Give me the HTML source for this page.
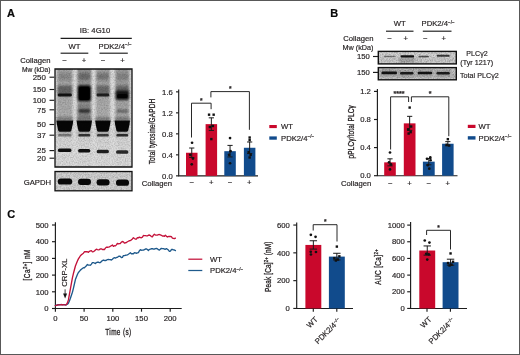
<!DOCTYPE html>
<html><head><meta charset="utf-8"><title>Figure</title>
<style>
html,body{margin:0;padding:0;background:#fff;}
body{width:520px;height:355px;overflow:hidden;font-family:"Liberation Sans",sans-serif;}
svg{display:block;font-family:"Liberation Sans",sans-serif;will-change:transform;}
.t{font-size:7.7px;fill:#231f20;stroke:#231f20;stroke-width:0.18px;}
.b{font-size:11px;font-weight:bold;fill:#0a0a0a;stroke:#0a0a0a;stroke-width:0.2px;}
.ax{stroke:#1c1c1c;stroke-width:1.15;fill:none;}
.br{stroke:#1c1c1c;stroke-width:0.95;fill:none;}
.eb{stroke:#1a1a1a;stroke-width:1;fill:none;}
.d{fill:#111;}
</style></head><body>
<svg width="520" height="355" viewBox="0 0 520 355">
<defs>
<filter id="b1" x="-20%" y="-50%" width="140%" height="200%"><feGaussianBlur stdDeviation="0.9"/></filter>
<filter id="b2" x="-20%" y="-50%" width="140%" height="200%"><feGaussianBlur stdDeviation="1.6"/></filter>
<filter id="b3" x="-20%" y="-50%" width="140%" height="200%"><feGaussianBlur stdDeviation="2.6"/></filter>
<filter id="b05" x="-20%" y="-80%" width="140%" height="260%"><feGaussianBlur stdDeviation="0.7"/></filter>
<filter id="b0" x="-20%" y="-50%" width="140%" height="200%"><feGaussianBlur stdDeviation="0.5"/></filter>
<filter id="grain" x="0" y="0" width="100%" height="100%"><feTurbulence type="fractalNoise" baseFrequency="0.75" numOctaves="2" seed="4"/><feColorMatrix type="matrix" values="0 0 0 0 0  0 0 0 0 0  0 0 0 0 0  1.2 1.2 0 0 -0.95"/></filter>
<clipPath id="cA"><rect x="55" y="69" width="77" height="98"/></clipPath>
<linearGradient id="lg" x1="0" y1="0" x2="0" y2="1"><stop offset="0" stop-color="#555" stop-opacity="1"/><stop offset="0.48" stop-color="#666" stop-opacity="0.9"/><stop offset="0.6" stop-color="#777" stop-opacity="0.45"/><stop offset="0.66" stop-color="#888" stop-opacity="0.25"/><stop offset="0.8" stop-color="#999" stop-opacity="0.12"/><stop offset="1" stop-color="#999" stop-opacity="0.08"/></linearGradient>
<clipPath id="cG"><rect x="55" y="171.5" width="77" height="19.3"/></clipPath>
<clipPath id="cB1"><rect x="378.3" y="51.4" width="78" height="12.5"/></clipPath>
<clipPath id="cB2"><rect x="378.3" y="67.6" width="78" height="12.2"/></clipPath>
</defs>
<rect x="0" y="0" width="520" height="355" fill="#fff"/>

<text class="b" transform="translate(6.9,17.2) scale(1,1.05)">A</text>
<text x="95" y="33" class="t" text-anchor="middle" >IB: 4G10</text>
<line x1="60.6" y1="38.3" x2="131.8" y2="38.3" class="ax"/>
<text x="74.5" y="48.9" class="t" text-anchor="middle" >WT</text>
<text x="98.5" y="48.9" class="t" text-anchor="start" >PDK2/4<tspan dy="-2.7" style="font-size:4.6px">−/−</tspan></text>
<line x1="60.6" y1="53.2" x2="88.3" y2="53.2" class="ax"/>
<line x1="99.5" y1="53.2" x2="127.8" y2="53.2" class="ax"/>
<text x="50.5" y="62.8" class="t" text-anchor="end" >Collagen</text>
<text x="50.5" y="71.6" class="t" text-anchor="end" textLength="28.5" lengthAdjust="spacingAndGlyphs">Mw (kDa)</text>
<text x="64.5" y="63.2" class="t" text-anchor="middle" >−</text>
<text x="84" y="63.2" class="t" text-anchor="middle" >+</text>
<text x="103" y="63.2" class="t" text-anchor="middle" >−</text>
<text x="122.5" y="63.2" class="t" text-anchor="middle" >+</text>
<rect x="55" y="69" width="77" height="98" fill="#dedede"/>
<g clip-path="url(#cA)">
<rect x="57.1" y="64" width="15.399999999999999" height="110" fill="url(#lg)" opacity="0.44" filter="url(#b1)"/>
<rect x="77.3" y="64" width="14" height="110" fill="url(#lg)" opacity="0.56" filter="url(#b1)"/>
<rect x="95.9" y="64" width="14" height="110" fill="url(#lg)" opacity="0.44" filter="url(#b1)"/>
<rect x="115.3" y="64" width="14" height="110" fill="url(#lg)" opacity="0.5" filter="url(#b1)"/>
<rect x="58.1" y="73" width="13.399999999999999" height="7" fill="#222" opacity="0.2" filter="url(#b2)"/>
<rect x="78.3" y="73" width="12" height="7" fill="#222" opacity="0.36" filter="url(#b2)"/>
<rect x="96.9" y="73" width="12" height="7" fill="#222" opacity="0.34" filter="url(#b2)"/>
<rect x="116.3" y="73" width="12" height="7" fill="#222" opacity="0.2" filter="url(#b2)"/>
<rect x="57.6" y="85.5" width="14.399999999999999" height="10" fill="#222" opacity="0.5" filter="url(#b1)"/>
<rect x="96.4" y="85.5" width="13" height="10" fill="#222" opacity="0.45" filter="url(#b1)"/>
<rect x="115.8" y="85.5" width="13" height="7" fill="#222" opacity="0.42" filter="url(#b1)"/>
<rect x="77.8" y="85.2" width="13" height="16" rx="2" fill="#000" opacity="0.97" filter="url(#b1)"/>
<rect x="78.8" y="87" width="11" height="13" rx="2" fill="#000" opacity="1" filter="url(#b0)"/>
<rect x="115.6" y="90.5" width="13.4" height="9.5" rx="2" fill="#000" opacity="0.85" filter="url(#b1)"/>
<rect x="117" y="94" width="10.6" height="4" rx="1.5" fill="#000" opacity="0.8" filter="url(#b0)"/>
<rect x="57.800000000000004" y="93.6" width="13.999999999999998" height="2.8" rx="1.2" fill="#000" opacity="0.85" filter="url(#b05)"/>
<rect x="96.60000000000001" y="93.6" width="12.6" height="2.8" rx="1.2" fill="#000" opacity="0.75" filter="url(#b05)"/>
<rect x="78" y="104" width="12.6" height="14" fill="#222" opacity="0.22" filter="url(#b2)"/>
<rect x="78.5" y="109.6" width="11.6" height="3" rx="1" fill="#000" opacity="0.72" filter="url(#b1)"/>
<rect x="116.5" y="109.8" width="11.6" height="2.6" rx="1" fill="#000" opacity="0.42" filter="url(#b1)"/>
<path d="M56.4,120.4 L73.2,120.4 L72.8,124 L71.4,130.6 Q71.1,131.7 70.0,131.7 L59.6,131.7 Q58.5,131.7 58.2,130.6 L56.800000000000004,124 Z" fill="#000" opacity="0.96" filter="url(#b0)"/>
<rect x="56.6" y="117" width="16.4" height="4" fill="#222" opacity="0.35" filter="url(#b1)"/>
<path d="M76.6,120.4 L92.0,120.4 L91.6,124 L90.2,130.6 Q89.89999999999999,131.7 88.8,131.7 L79.8,131.7 Q78.7,131.7 78.39999999999999,130.6 L77.0,124 Z" fill="#000" opacity="0.96" filter="url(#b0)"/>
<rect x="76.8" y="117" width="15" height="4" fill="#222" opacity="0.35" filter="url(#b1)"/>
<path d="M95.2,120.4 L110.60000000000001,120.4 L110.2,124 L108.80000000000001,130.6 Q108.5,131.7 107.4,131.7 L98.4,131.7 Q97.30000000000001,131.7 97.0,130.6 L95.60000000000001,124 Z" fill="#000" opacity="0.96" filter="url(#b0)"/>
<rect x="95.4" y="117" width="15" height="4" fill="#222" opacity="0.35" filter="url(#b1)"/>
<path d="M114.6,120.4 L130.0,120.4 L129.60000000000002,124 L128.20000000000002,130.6 Q127.9,131.7 126.80000000000001,131.7 L117.8,131.7 Q116.7,131.7 116.39999999999999,130.6 L115.0,124 Z" fill="#000" opacity="0.96" filter="url(#b0)"/>
<rect x="114.8" y="117" width="15" height="4" fill="#222" opacity="0.35" filter="url(#b1)"/>
<rect x="58.2" y="134" width="13.2" height="2.6" rx="1.2" fill="#000" opacity="0.35" filter="url(#b05)"/>
<rect x="57.6" y="131" width="14.399999999999999" height="5" fill="#333" opacity="0.18" filter="url(#b1)"/>
<rect x="78.39999999999999" y="134" width="11.8" height="2.6" rx="1.2" fill="#000" opacity="0.75" filter="url(#b05)"/>
<rect x="77.8" y="131" width="13" height="5" fill="#333" opacity="0.18" filter="url(#b1)"/>
<rect x="97.0" y="134" width="11.8" height="2.6" rx="1.2" fill="#000" opacity="0.7" filter="url(#b05)"/>
<rect x="96.4" y="131" width="13" height="5" fill="#333" opacity="0.18" filter="url(#b1)"/>
<rect x="116.39999999999999" y="134" width="11.8" height="2.6" rx="1.2" fill="#000" opacity="0.78" filter="url(#b05)"/>
<rect x="115.8" y="131" width="13" height="5" fill="#333" opacity="0.18" filter="url(#b1)"/>
<rect x="57.9" y="148.5" width="13.599999999999998" height="3.6" rx="1.6" fill="#000" opacity="0.92" filter="url(#b05)"/>
<rect x="78.1" y="149.0" width="12.2" height="3.6" rx="1.6" fill="#000" opacity="0.92" filter="url(#b05)"/>
<rect x="96.7" y="149.7" width="12.2" height="3.6" rx="1.6" fill="#000" opacity="0.85" filter="url(#b05)"/>
<rect x="116.1" y="150.2" width="12.2" height="3.6" rx="1.6" fill="#000" opacity="0.8" filter="url(#b05)"/>
<rect x="55" y="69" width="77" height="98" filter="url(#grain)" opacity="0.2"/>
</g>
<path d="M55,69 H132 V167 H55 Z" fill="none" stroke="#111" stroke-width="1.3"/>
<text x="45.9" y="80.0" class="t" text-anchor="end" style="font-size:7.9px">250</text>
<line x1="49.5" y1="77.2" x2="54.3" y2="77.2" class="ax"/>
<text x="45.9" y="92.3" class="t" text-anchor="end" style="font-size:7.9px">150</text>
<line x1="49.5" y1="89.5" x2="54.3" y2="89.5" class="ax"/>
<text x="45.9" y="103.1" class="t" text-anchor="end" style="font-size:7.9px">100</text>
<line x1="49.5" y1="100.3" x2="54.3" y2="100.3" class="ax"/>
<text x="45.9" y="112.6" class="t" text-anchor="end" style="font-size:7.9px">75</text>
<line x1="49.5" y1="109.8" x2="54.3" y2="109.8" class="ax"/>
<text x="45.9" y="127.3" class="t" text-anchor="end" style="font-size:7.9px">50</text>
<line x1="49.5" y1="124.5" x2="54.3" y2="124.5" class="ax"/>
<text x="45.9" y="138.0" class="t" text-anchor="end" style="font-size:7.9px">37</text>
<line x1="49.5" y1="135.2" x2="54.3" y2="135.2" class="ax"/>
<text x="45.9" y="153.4" class="t" text-anchor="end" style="font-size:7.9px">25</text>
<line x1="49.5" y1="150.6" x2="54.3" y2="150.6" class="ax"/>
<text x="45.9" y="161.0" class="t" text-anchor="end" style="font-size:7.9px">20</text>
<line x1="49.5" y1="158.2" x2="54.3" y2="158.2" class="ax"/>
<rect x="55" y="171.5" width="77" height="19.3" fill="#d2d2d2"/>
<g clip-path="url(#cG)">
<rect x="57.800000000000004" y="178.4" width="14.399999999999999" height="6.2" rx="2.9" fill="#000" opacity="0.95" filter="url(#b0)"/>
<rect x="78.0" y="178.8" width="13" height="6.2" rx="2.9" fill="#000" opacity="0.95" filter="url(#b0)"/>
<rect x="96.60000000000001" y="179.20000000000002" width="13" height="6.2" rx="2.9" fill="#000" opacity="0.95" filter="url(#b0)"/>
<rect x="116.0" y="179.6" width="13" height="6.2" rx="2.9" fill="#000" opacity="0.95" filter="url(#b0)"/>
<rect x="55" y="171.5" width="77" height="19.3" filter="url(#grain)" opacity="0.25"/>
</g>
<rect x="55" y="171.5" width="77" height="19.3" fill="none" stroke="#111" stroke-width="1.3"/>
<text x="51" y="184.6" class="t" text-anchor="end" >GAPDH</text>
<path d="M178.7,89.4 V175.85 H258" class="ax"/>
<line x1="176" y1="175.85" x2="178.8" y2="175.85" class="ax"/>
<text x="172.8" y="178.55" class="t" text-anchor="end" >0.0</text>
<line x1="176" y1="154.85" x2="178.8" y2="154.85" class="ax"/>
<text x="172.8" y="157.55" class="t" text-anchor="end" >0.4</text>
<line x1="176" y1="133.85" x2="178.8" y2="133.85" class="ax"/>
<text x="172.8" y="136.55" class="t" text-anchor="end" >0.8</text>
<line x1="176" y1="112.85" x2="178.8" y2="112.85" class="ax"/>
<text x="172.8" y="115.55" class="t" text-anchor="end" >1.2</text>
<line x1="176" y1="91.85" x2="178.8" y2="91.85" class="ax"/>
<text x="172.8" y="94.55" class="t" text-anchor="end" >1.6</text>
<text class="t" text-anchor="middle" transform="translate(155.3,131.5) rotate(-90) scale(0.77,1)" style="font-size:8.4px;letter-spacing:0.177px;stroke-width:0.3px">Total tyrosine/GAPDH</text>
<rect x="186.0" y="152.75" width="11.50" height="23.10" fill="#c9082c"/>
<path d="M191.75,148.02 V157.47 M189.15,148.02 H194.35 M189.15,157.47 H194.35" class="eb"/>
<circle cx="192.05" cy="142.77" r="1.35" class="d"/>
<circle cx="190.25" cy="154.85" r="1.35" class="d"/>
<circle cx="192.95" cy="158.53" r="1.35" class="d"/>
<circle cx="191.75" cy="164.30" r="1.35" class="d"/>
<rect x="205.6" y="124.14" width="11.50" height="51.71" fill="#c9082c"/>
<path d="M211.35,117.84 V130.44 M208.75,117.84 H213.95 M208.75,130.44 H213.95" class="eb"/>
<rect x="207.85" y="113.49" width="2.4" height="2.4" class="d"/>
<rect x="212.45000000000002" y="113.49" width="2.4" height="2.4" class="d"/>
<rect x="208.65" y="125.82" width="2.4" height="2.4" class="d"/>
<rect x="211.65" y="124.77" width="2.4" height="2.4" class="d"/>
<rect x="210.15" y="137.90" width="2.4" height="2.4" class="d"/>
<rect x="224.3" y="151.18" width="11.50" height="24.67" fill="#114b8c"/>
<path d="M230.05,145.40 V156.95 M227.45000000000002,145.40 H232.65 M227.45000000000002,156.95 H232.65" class="eb"/>
<circle cx="230.05" cy="138.05" r="1.35" class="d"/>
<circle cx="230.55" cy="151.18" r="1.35" class="d"/>
<circle cx="229.05" cy="154.85" r="1.35" class="d"/>
<circle cx="230.05" cy="163.25" r="1.35" class="d"/>
<rect x="243.9" y="147.76" width="11.50" height="28.09" fill="#114b8c"/>
<path d="M249.65,141.99 V153.54 M247.05,141.99 H252.25 M247.05,153.54 H252.25" class="eb"/>
<rect x="248.45000000000002" y="136.33" width="2.4" height="2.4" class="d"/>
<rect x="248.45000000000002" y="138.95" width="2.4" height="2.4" class="d"/>
<rect x="247.45000000000002" y="151.03" width="2.4" height="2.4" class="d"/>
<rect x="249.45000000000002" y="153.65" width="2.4" height="2.4" class="d"/>
<rect x="248.45000000000002" y="156.28" width="2.4" height="2.4" class="d"/>
<path d="M191.5,137.5 V103.2 H211.1 V109.2" class="br"/>
<path d="M210.9,97.4 V91.6 H249.4 V129.8" class="br"/>
<text x="201.3" y="102.6" class="t" text-anchor="middle" style="font-size:6.5px;font-weight:bold">*</text>
<text x="230.2" y="91.3" class="t" text-anchor="middle" style="font-size:6.5px;font-weight:bold">*</text>
<text x="172" y="185.6" class="t" text-anchor="end" >Collagen</text>
<text x="191.8" y="185.4" class="t" text-anchor="middle" >−</text>
<text x="211.2" y="185.4" class="t" text-anchor="middle" >+</text>
<text x="230" y="185.4" class="t" text-anchor="middle" >−</text>
<text x="249.2" y="185.4" class="t" text-anchor="middle" >+</text>
<rect x="269.3" y="125" width="7.5" height="3.1" fill="#c9082c"/>
<rect x="269.3" y="136.4" width="7.5" height="3.3" fill="#114b8c"/>
<text x="281" y="128.8" class="t" text-anchor="start" >WT</text>
<text x="281" y="140.5" class="t" text-anchor="start" >PDK2/4<tspan dy="-2.7" style="font-size:4.6px">−/−</tspan></text>
<text class="b" transform="translate(330.2,17) scale(1,1.05)">B</text>
<text x="399.7" y="26.3" class="t" text-anchor="middle" >WT</text>
<text x="421.5" y="26.3" class="t" text-anchor="start" >PDK2/4<tspan dy="-2.7" style="font-size:4.6px">−/−</tspan></text>
<line x1="386" y1="31.2" x2="413.5" y2="31.2" class="ax"/>
<line x1="422.8" y1="31.2" x2="451.5" y2="31.2" class="ax"/>
<text x="373.5" y="41.3" class="t" text-anchor="end" >Collagen</text>
<text x="373.5" y="49.5" class="t" text-anchor="end" textLength="31" lengthAdjust="spacingAndGlyphs">Mw (kDa)</text>
<text x="389.5" y="41.4" class="t" text-anchor="middle" >−</text>
<text x="405.7" y="41.4" class="t" text-anchor="middle" >+</text>
<text x="425.2" y="41.4" class="t" text-anchor="middle" >−</text>
<text x="443.8" y="41.4" class="t" text-anchor="middle" >+</text>
<rect x="378.3" y="51.4" width="78" height="12.5" fill="#d6d6d6"/>
<g clip-path="url(#cB1)">
<rect x="378" y="58" width="80" height="7" fill="#bbb" opacity="0.35" filter="url(#b1)"/>
<rect x="399" y="57" width="16" height="6" fill="#666" opacity="0.35" filter="url(#b1)"/>
<rect x="383.7" y="55.65" width="12" height="1.5" rx="1" fill="#000" opacity="0.42" filter="url(#b05)"/>
<rect x="400.5" y="55.15" width="13.6" height="2.3" rx="1" fill="#000" opacity="0.9" filter="url(#b05)"/>
<rect x="418.4" y="55.65" width="10.5" height="1.7" rx="1" fill="#000" opacity="0.6" filter="url(#b05)"/>
<rect x="436.7" y="54.849999999999994" width="13" height="1.9" rx="1" fill="#000" opacity="0.72" filter="url(#b05)"/>
<rect x="378.3" y="51.4" width="78" height="12.5" filter="url(#grain)" opacity="0.3"/>
</g>
<rect x="378.3" y="51.4" width="78" height="12.5" fill="none" stroke="#111" stroke-width="1.4"/>
<rect x="378.3" y="67.6" width="78" height="12.2" fill="#c4c4c4"/>
<g clip-path="url(#cB2)">
<rect x="380.5" y="69.4" width="17.5" height="7" fill="#555" opacity="0.3" filter="url(#b1)"/>
<rect x="381.5" y="71.55000000000001" width="15.5" height="2.7" rx="1.3" fill="#000" opacity="0.88" filter="url(#b0)"/>
<rect x="399" y="69.8" width="15.5" height="7" fill="#555" opacity="0.3" filter="url(#b1)"/>
<rect x="400" y="72.1" width="13.5" height="2.4" rx="1.3" fill="#000" opacity="0.82" filter="url(#b0)"/>
<rect x="416.6" y="69.5" width="16.6" height="7" fill="#555" opacity="0.3" filter="url(#b1)"/>
<rect x="417.6" y="71.65" width="14.6" height="2.7" rx="1.3" fill="#000" opacity="0.88" filter="url(#b0)"/>
<rect x="435.5" y="69.8" width="15.3" height="7" fill="#555" opacity="0.3" filter="url(#b1)"/>
<rect x="436.5" y="72.1" width="13.3" height="2.4" rx="1.3" fill="#000" opacity="0.82" filter="url(#b0)"/>
<rect x="378.3" y="67.6" width="78" height="12.2" filter="url(#grain)" opacity="0.3"/>
</g>
<rect x="378.3" y="67.6" width="78" height="12.2" fill="none" stroke="#111" stroke-width="1.4"/>
<text x="369.8" y="59.2" class="t" text-anchor="end" >150</text>
<text x="369.8" y="75" class="t" text-anchor="end" >150</text>
<line x1="373" y1="56.5" x2="378" y2="56.5" class="ax"/>
<line x1="373" y1="72.4" x2="378" y2="72.4" class="ax"/>
<text x="477" y="55.8" class="t" text-anchor="middle" textLength="21.3" lengthAdjust="spacingAndGlyphs">PLCγ2</text>
<text x="476.7" y="65.3" class="t" text-anchor="middle" textLength="32.8" lengthAdjust="spacingAndGlyphs">(Tyr 1217)</text>
<text x="460" y="78.1" class="t" text-anchor="start" textLength="38.8" lengthAdjust="spacingAndGlyphs">Total PLCγ2</text>
<path d="M377.4,88.9 V175.7 H457.5" class="ax"/>
<line x1="374" y1="175.70" x2="377.4" y2="175.70" class="ax"/>
<text x="370.9" y="178.40" class="t" text-anchor="end" >0.0</text>
<line x1="374" y1="147.60" x2="377.4" y2="147.60" class="ax"/>
<text x="370.9" y="150.30" class="t" text-anchor="end" >0.4</text>
<line x1="374" y1="119.50" x2="377.4" y2="119.50" class="ax"/>
<text x="370.9" y="122.20" class="t" text-anchor="end" >0.8</text>
<line x1="374" y1="91.40" x2="377.4" y2="91.40" class="ax"/>
<text x="370.9" y="94.10" class="t" text-anchor="end" >1.2</text>
<text class="t" text-anchor="middle" transform="translate(354.3,131.8) rotate(-90) scale(0.77,1)" style="font-size:8.4px;letter-spacing:0.195px;stroke-width:0.3px">pPLCγ/total PLCγ</text>
<rect x="384.2" y="162.35" width="11.60" height="13.35" fill="#c9082c"/>
<path d="M390.0,158.84 V165.86 M387.4,158.84 H392.6 M387.4,165.86 H392.6" class="eb"/>
<circle cx="390.0" cy="152.52" r="1.35" class="d"/>
<circle cx="389.0" cy="162.35" r="1.35" class="d"/>
<circle cx="391.0" cy="164.46" r="1.35" class="d"/>
<circle cx="390.0" cy="169.38" r="1.35" class="d"/>
<rect x="403.8" y="123.36" width="11.70" height="52.34" fill="#c9082c"/>
<path d="M409.65,116.34 V130.39 M407.04999999999995,116.34 H412.25 M407.04999999999995,130.39 H412.25" class="eb"/>
<rect x="408.45" y="106.36" width="2.4" height="2.4" class="d"/>
<rect x="409.95" y="125.32" width="2.4" height="2.4" class="d"/>
<rect x="406.95" y="128.13" width="2.4" height="2.4" class="d"/>
<rect x="409.45" y="130.94" width="2.4" height="2.4" class="d"/>
<rect x="407.45" y="132.35" width="2.4" height="2.4" class="d"/>
<rect x="422.9" y="161.65" width="11.80" height="14.05" fill="#114b8c"/>
<path d="M428.79999999999995,158.49 V164.81 M426.19999999999993,158.49 H431.4 M426.19999999999993,164.81 H431.4" class="eb"/>
<circle cx="430.29999999999995" cy="157.44" r="1.35" class="d"/>
<circle cx="426.99999999999994" cy="158.84" r="1.35" class="d"/>
<circle cx="430.59999999999997" cy="160.24" r="1.35" class="d"/>
<circle cx="427.79999999999995" cy="165.16" r="1.35" class="d"/>
<circle cx="429.29999999999995" cy="168.67" r="1.35" class="d"/>
<rect x="442.1" y="143.74" width="11.50" height="31.96" fill="#114b8c"/>
<path d="M447.85,141.63 V145.84 M445.25,141.63 H450.45000000000005 M445.25,145.84 H450.45000000000005" class="eb"/>
<rect x="446.65000000000003" y="137.97" width="2.4" height="2.4" class="d"/>
<rect x="445.45000000000005" y="143.59" width="2.4" height="2.4" class="d"/>
<rect x="447.85" y="144.29" width="2.4" height="2.4" class="d"/>
<path d="M390.6,149.5 V96.8 H408.6 V102" class="br"/>
<path d="M411.4,102 V96.8 H448.8 V136.2" class="br"/>
<text x="399" y="96.3" class="t" text-anchor="middle" style="font-size:7px;font-weight:bold">****</text>
<text x="430.1" y="96.3" class="t" text-anchor="middle" style="font-size:7px;font-weight:bold">*</text>
<text x="371.3" y="186" class="t" text-anchor="end" >Collagen</text>
<text x="390.3" y="185.8" class="t" text-anchor="middle" >−</text>
<text x="409.6" y="185.8" class="t" text-anchor="middle" >+</text>
<text x="428.8" y="185.8" class="t" text-anchor="middle" >−</text>
<text x="447.8" y="185.8" class="t" text-anchor="middle" >+</text>
<rect x="467.8" y="124.8" width="7.7" height="3.2" fill="#c9082c"/>
<rect x="467.8" y="136.2" width="7.7" height="3.4" fill="#114b8c"/>
<text x="478.6" y="128.8" class="t" text-anchor="start" >WT</text>
<text x="478.6" y="140.5" class="t" text-anchor="start" >PDK2/4<tspan dy="-2.7" style="font-size:4.6px">−/−</tspan></text>
<text class="b" transform="translate(7.3,217.8) scale(1,1.05)">C</text>
<path d="M55.4,222.3 V308.5 H181.7" class="ax"/>
<line x1="52" y1="308.50" x2="55.4" y2="308.50" class="ax"/>
<text x="48.6" y="311.20" class="t" text-anchor="end" >0</text>
<line x1="52" y1="291.80" x2="55.4" y2="291.80" class="ax"/>
<text x="48.6" y="294.50" class="t" text-anchor="end" >100</text>
<line x1="52" y1="275.10" x2="55.4" y2="275.10" class="ax"/>
<text x="48.6" y="277.80" class="t" text-anchor="end" >200</text>
<line x1="52" y1="258.40" x2="55.4" y2="258.40" class="ax"/>
<text x="48.6" y="261.10" class="t" text-anchor="end" >300</text>
<line x1="52" y1="241.70" x2="55.4" y2="241.70" class="ax"/>
<text x="48.6" y="244.40" class="t" text-anchor="end" >400</text>
<line x1="52" y1="225.00" x2="55.4" y2="225.00" class="ax"/>
<text x="48.6" y="227.70" class="t" text-anchor="end" >500</text>
<line x1="55.40" y1="308.5" x2="55.40" y2="311.7" class="ax"/>
<text x="55.40" y="321.2" class="t" text-anchor="middle" >0</text>
<line x1="84.10" y1="308.5" x2="84.10" y2="311.7" class="ax"/>
<text x="84.10" y="321.2" class="t" text-anchor="middle" >50</text>
<line x1="112.80" y1="308.5" x2="112.80" y2="311.7" class="ax"/>
<text x="112.80" y="321.2" class="t" text-anchor="middle" >100</text>
<line x1="141.50" y1="308.5" x2="141.50" y2="311.7" class="ax"/>
<text x="141.50" y="321.2" class="t" text-anchor="middle" >150</text>
<line x1="170.20" y1="308.5" x2="170.20" y2="311.7" class="ax"/>
<text x="170.20" y="321.2" class="t" text-anchor="middle" >200</text>
<text class="t" text-anchor="middle" transform="translate(118.4,334.5) rotate(0) scale(0.77,1)" style="font-size:8.4px;letter-spacing:0.451px;stroke-width:0.3px">Time (s)</text>
<text class="t" text-anchor="middle" transform="translate(29.9,264.8) rotate(-90) scale(0.77,1)" style="font-size:8.4px;letter-spacing:0.526px;stroke-width:0.3px">[Ca<tspan dy="-3.4" style="font-size:5.6px">2+</tspan><tspan dy="3.4">] nM</tspan></text>
<text class="t" text-anchor="start" textLength="28.2" lengthAdjust="spacingAndGlyphs" transform="translate(66.9,286.7) rotate(-90)">CRP-XL</text>
<path d="M65.1,289.3 V294.5" stroke="#111" stroke-width="0.8" fill="none"/><path d="M63.1,293.6 H67.1 L65.1,298.6 Z" fill="#111"/>
<path d="M55.40,305.50 L56.40,305.27 L57.40,304.86 L58.40,304.75 L59.40,304.77 L60.40,304.55 L61.40,304.54 L62.40,304.88 L63.40,304.67 L64.40,304.67 L65.40,304.98 L66.40,304.78 L67.40,304.20 L68.40,303.20 L69.40,300.89 L70.40,298.26 L71.40,295.26 L72.40,292.22 L73.40,288.37 L74.40,283.98 L75.40,279.60 L76.40,277.06 L77.40,274.52 L78.40,272.52 L79.40,271.32 L80.40,270.12 L81.40,269.28 L82.40,268.48 L83.40,267.68 L84.40,267.88 L85.40,266.68 L86.40,265.69 L87.40,264.56 L88.40,265.07 L89.40,265.13 L90.40,265.20 L91.40,264.14 L92.40,262.57 L93.40,262.58 L94.40,263.00 L95.40,263.65 L96.40,262.56 L97.40,262.23 L98.40,262.07 L99.40,262.71 L100.40,262.51 L101.40,261.52 L102.40,260.58 L103.40,260.05 L104.40,260.51 L105.40,260.49 L106.40,260.32 L107.40,259.56 L108.40,259.41 L109.40,259.56 L110.40,259.62 L111.40,260.07 L112.40,259.23 L113.40,258.24 L114.40,257.69 L115.40,258.04 L116.40,257.52 L117.40,257.39 L118.40,256.41 L119.40,256.07 L120.40,256.45 L121.40,257.61 L122.40,257.39 L123.40,255.67 L124.40,255.64 L125.40,255.28 L126.40,255.14 L127.40,254.81 L128.40,254.22 L129.40,253.51 L130.40,252.79 L131.40,253.87 L132.40,253.63 L133.40,253.79 L134.40,252.70 L135.40,252.91 L136.40,253.25 L137.40,252.91 L138.40,252.63 L139.40,250.75 L140.40,249.72 L141.40,250.23 L142.40,250.08 L143.40,250.12 L144.40,249.57 L145.40,249.04 L146.40,248.88 L147.40,249.46 L148.40,250.43 L149.40,249.34 L150.40,249.08 L151.40,248.74 L152.40,248.63 L153.40,249.13 L154.40,249.02 L155.40,248.57 L156.40,248.31 L157.40,248.84 L158.40,249.71 L159.40,250.13 L160.40,249.10 L161.40,248.36 L162.40,248.60 L163.40,248.67 L164.40,249.01 L165.40,249.28 L166.40,248.59 L167.40,249.24 L168.40,250.06 L169.40,251.31 L170.40,251.05 L171.40,249.53 L172.40,249.46 L173.40,249.87 L174.40,249.98 L175.40,250.61" stroke="#1f5a8c" stroke-width="1.35" fill="none" stroke-linejoin="round" stroke-linecap="round"/>
<path d="M55.40,305.65 L56.40,305.35 L57.40,305.03 L58.40,304.88 L59.40,304.81 L60.40,304.90 L61.40,304.55 L62.40,304.74 L63.40,304.94 L64.40,304.83 L65.40,304.95 L66.40,304.64 L67.40,302.90 L68.40,299.89 L69.40,294.33 L70.40,288.83 L71.40,283.40 L72.40,277.97 L73.40,273.54 L74.40,269.77 L75.40,266.00 L76.40,263.50 L77.40,261.00 L78.40,258.88 L79.40,257.32 L80.40,255.76 L81.40,254.81 L82.40,253.93 L83.40,253.21 L84.40,251.76 L85.40,251.68 L86.40,251.74 L87.40,251.75 L88.40,252.32 L89.40,251.31 L90.40,250.90 L91.40,250.67 L92.40,251.83 L93.40,251.58 L94.40,251.01 L95.40,249.99 L96.40,249.18 L97.40,249.64 L98.40,249.85 L99.40,249.59 L100.40,248.94 L101.40,248.88 L102.40,249.48 L103.40,249.30 L104.40,249.54 L105.40,248.14 L106.40,247.10 L107.40,247.25 L108.40,247.13 L109.40,246.86 L110.40,246.28 L111.40,245.71 L112.40,245.02 L113.40,246.33 L114.40,245.76 L115.40,245.87 L116.40,244.87 L117.40,243.34 L118.40,243.91 L119.40,243.63 L120.40,243.47 L121.40,242.08 L122.40,241.49 L123.40,241.81 L124.40,243.18 L125.40,242.77 L126.40,242.57 L127.40,241.73 L128.40,241.23 L129.40,240.71 L130.40,240.57 L131.40,239.86 L132.40,238.91 L133.40,237.69 L134.40,238.49 L135.40,239.05 L136.40,239.07 L137.40,237.64 L138.40,237.84 L139.40,237.09 L140.40,237.65 L141.40,237.76 L142.40,237.13 L143.40,235.53 L144.40,235.63 L145.40,235.62 L146.40,235.91 L147.40,235.83 L148.40,235.22 L149.40,234.99 L150.40,235.57 L151.40,236.65 L152.40,236.81 L153.40,235.19 L154.40,234.26 L155.40,235.01 L156.40,235.05 L157.40,235.16 L158.40,234.66 L159.40,234.51 L160.40,234.88 L161.40,235.32 L162.40,236.07 L163.40,235.91 L164.40,236.27 L165.40,235.32 L166.40,236.18 L167.40,237.04 L168.40,236.46 L169.40,236.52 L170.40,236.42 L171.40,236.72 L172.40,238.09 L173.40,238.34 L174.40,238.69 L175.40,238.13" stroke="#c4123a" stroke-width="1.35" fill="none" stroke-linejoin="round" stroke-linecap="round"/>
<line x1="188.3" y1="259.2" x2="202.3" y2="259.2" stroke="#c4123a" stroke-width="1.25"/>
<line x1="188.3" y1="270.5" x2="202.3" y2="270.5" stroke="#1f5a8c" stroke-width="1.25"/>
<text x="210" y="261.8" class="t" text-anchor="start" >WT</text>
<text x="210" y="273.4" class="t" text-anchor="start" >PDK2/4<tspan dy="-2.7" style="font-size:4.6px">−/−</tspan></text>
<path d="M296.7,222.6 V308.45 H353" class="ax"/>
<line x1="293.3" y1="308.45" x2="296.7" y2="308.45" class="ax"/>
<text x="289.8" y="311.15" class="t" text-anchor="end" >0</text>
<line x1="293.3" y1="280.65" x2="296.7" y2="280.65" class="ax"/>
<text x="289.8" y="283.35" class="t" text-anchor="end" >200</text>
<line x1="293.3" y1="252.85" x2="296.7" y2="252.85" class="ax"/>
<text x="289.8" y="255.55" class="t" text-anchor="end" >400</text>
<line x1="293.3" y1="225.05" x2="296.7" y2="225.05" class="ax"/>
<text x="289.8" y="227.75" class="t" text-anchor="end" >600</text>
<text class="t" text-anchor="middle" transform="translate(271.4,266.7) rotate(-90) scale(0.77,1)" style="font-size:8.4px;letter-spacing:0.190px;stroke-width:0.3px">Peak [Ca]<tspan dy="-3.4" style="font-size:5.6px">2+</tspan><tspan dy="3.4"> (nM)</tspan></text>
<rect x="305.4" y="244.93" width="15.90" height="63.52" fill="#c9082c"/>
<path d="M313.35,240.76 V249.10 M309.65000000000003,240.76 H317.05 M309.65000000000003,249.10 H317.05" class="eb"/>
<circle cx="310.85" cy="234.78" r="1.35" class="d"/>
<circle cx="315.55" cy="236.86" r="1.35" class="d"/>
<circle cx="310.75" cy="251.74" r="1.35" class="d"/>
<circle cx="315.95000000000005" cy="252.02" r="1.35" class="d"/>
<circle cx="310.95000000000005" cy="254.52" r="1.35" class="d"/>
<rect x="328.9" y="256.60" width="15.90" height="51.85" fill="#114b8c"/>
<path d="M336.85,253.27 V259.94 M333.15000000000003,253.27 H340.55 M333.15000000000003,259.94 H340.55" class="eb"/>
<rect x="335.65000000000003" y="245.39" width="2.4" height="2.4" class="d"/>
<rect x="338.15000000000003" y="255.12" width="2.4" height="2.4" class="d"/>
<rect x="333.15000000000003" y="256.93" width="2.4" height="2.4" class="d"/>
<rect x="336.65000000000003" y="258.32" width="2.4" height="2.4" class="d"/>
<rect x="334.65000000000003" y="259.30" width="2.4" height="2.4" class="d"/>
<path d="M313.2,230.5 V224.7 H337 V241.5" class="br"/>
<text x="325.2" y="224.1" class="t" text-anchor="middle" style="font-size:6.5px;font-weight:bold">*</text>
<line x1="313.3" y1="308.45" x2="313.3" y2="311.75" class="ax"/>
<line x1="336.8" y1="308.45" x2="336.8" y2="311.75" class="ax"/>
<text class="t" text-anchor="end" transform="translate(318.3,320) rotate(-45)">WT</text>
<text class="t" text-anchor="end" transform="translate(341.5,321) rotate(-45)">PDK2/4<tspan dy="-2.7" style="font-size:4.6px">−/−</tspan></text>
<path d="M410.6,222 V308.45 H467" class="ax"/>
<line x1="407.2" y1="308.45" x2="410.6" y2="308.45" class="ax"/>
<text x="404.9" y="311.15" class="t" text-anchor="end" >0</text>
<line x1="407.2" y1="291.78" x2="410.6" y2="291.78" class="ax"/>
<text x="404.9" y="294.48" class="t" text-anchor="end" >200</text>
<line x1="407.2" y1="275.11" x2="410.6" y2="275.11" class="ax"/>
<text x="404.9" y="277.81" class="t" text-anchor="end" >400</text>
<line x1="407.2" y1="258.44" x2="410.6" y2="258.44" class="ax"/>
<text x="404.9" y="261.14" class="t" text-anchor="end" >600</text>
<line x1="407.2" y1="241.77" x2="410.6" y2="241.77" class="ax"/>
<text x="404.9" y="244.47" class="t" text-anchor="end" >800</text>
<line x1="407.2" y1="225.10" x2="410.6" y2="225.10" class="ax"/>
<text x="404.9" y="227.80" class="t" text-anchor="end" >1000</text>
<text class="t" text-anchor="middle" transform="translate(381.2,266.8) rotate(-90) scale(0.77,1)" style="font-size:8.4px;letter-spacing:0.472px;stroke-width:0.3px">AUC [Ca]<tspan dy="-3.4" style="font-size:5.6px">2+</tspan></text>
<rect x="419.3" y="250.52" width="15.90" height="57.93" fill="#c9082c"/>
<path d="M427.25,245.94 V255.11 M423.55,245.94 H430.95 M423.55,255.11 H430.95" class="eb"/>
<circle cx="424.75" cy="240.52" r="1.35" class="d"/>
<circle cx="429.45" cy="242.60" r="1.35" class="d"/>
<circle cx="426.25" cy="253.86" r="1.35" class="d"/>
<circle cx="428.75" cy="254.44" r="1.35" class="d"/>
<circle cx="427.25" cy="259.61" r="1.35" class="d"/>
<rect x="442.6" y="262.19" width="15.90" height="46.26" fill="#114b8c"/>
<path d="M450.55,259.19 V265.19 M446.85,259.19 H454.25 M446.85,265.19 H454.25" class="eb"/>
<rect x="449.35" y="252.24" width="2.4" height="2.4" class="d"/>
<rect x="451.85" y="260.57" width="2.4" height="2.4" class="d"/>
<rect x="446.85" y="261.82" width="2.4" height="2.4" class="d"/>
<rect x="450.35" y="263.49" width="2.4" height="2.4" class="d"/>
<rect x="448.35" y="264.32" width="2.4" height="2.4" class="d"/>
<path d="M426.6,235 V230.3 H450.5 V249.5" class="br"/>
<text x="438.6" y="229.7" class="t" text-anchor="middle" style="font-size:6.5px;font-weight:bold">*</text>
<line x1="427" y1="308.45" x2="427" y2="311.75" class="ax"/>
<line x1="450.4" y1="308.45" x2="450.4" y2="311.75" class="ax"/>
<text class="t" text-anchor="end" transform="translate(432,320) rotate(-45)">WT</text>
<text class="t" text-anchor="end" transform="translate(455.2,321) rotate(-45)">PDK2/4<tspan dy="-2.7" style="font-size:4.6px">−/−</tspan></text>
<rect x="0.5" y="0.5" width="519" height="354" fill="none" stroke="#585858" stroke-width="1"/>
</svg></body></html>
